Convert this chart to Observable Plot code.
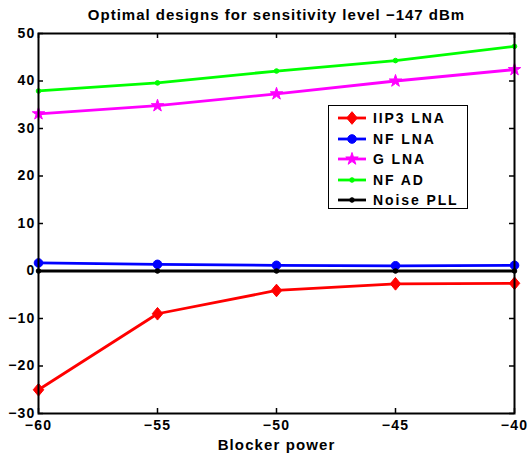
<!DOCTYPE html>
<html><head><meta charset="utf-8">
<script src="https://cdn.jsdelivr.net/npm/d3@7"></script>
<script src="https://cdn.jsdelivr.net/npm/@observablehq/plot@0.6"></script>
<style>
body{margin:0;background:#fff;font-family:"Liberation Sans",Arial,sans-serif}
#wrap{position:relative;width:530px;height:458px}
#legend{position:absolute;left:328px;top:105px;width:138px;height:100px;border:1.5px solid #000;background:#fff;padding-top:2px}
.row{height:20.5px;display:flex;align-items:center;font-weight:bold;font-size:14px;letter-spacing:1.9px;color:#000;white-space:nowrap}
.row svg{margin-left:8px;margin-right:6px}
</style></head><body><div id="wrap"><div id="legend"></div></div>
<script>
const blockerPower = [-60, -55, -50, -45, -40];
const iip3LNA = [-25, -9, -4.1, -2.7, -2.6];
const nfLNA = [1.7, 1.4, 1.2, 1.1, 1.2];
const gLNA = [33.1, 34.8, 37.3, 40.0, 42.4];
const nfAD = [37.9, 39.6, 42.1, 44.3, 47.3];
const noisePLL = [0, 0, 0, 0, 0];
const seriesNames = ["IIP3 LNA", "NF LNA", "G LNA", "NF AD", "Noise PLL"];
const seriesValues = [iip3LNA, nfLNA, gLNA, nfAD, noisePLL];
const seriesColors = ["#ff0000", "#0000ff", "#ff00ff", "#00ff00", "#000000"];
const seriesSymbols = ["diamond", "circle", "star", "circle", "circle"];
const seriesR = [4.6, 4.3, 3.9, 2.3, 2.3];
const xTicks = [-60, -55, -50, -45, -40];
const yTicks = [-30, -20, -10, 0, 10, 20, 30, 40, 50];
const titleText = "Optimal designs for sensitivity level \u2212147 dBm";
const xLabel = "Blocker power";

// MATLAB-like diamond (half-width : half-height = 5 : 6)
const matlabDiamond = {
  draw(ctx, size) {
    const h = Math.sqrt(size / (2 * 5 / 6)), w = h * 5 / 6;
    ctx.moveTo(0, -h); ctx.lineTo(w, 0); ctx.lineTo(0, h); ctx.lineTo(-w, 0); ctx.closePath();
  }
};
const symbolMap = {diamond: matlabDiamond, circle: d3.symbolCircle, star: d3.symbolStar};

const rows = [];
seriesNames.forEach((name, s) => blockerPower.forEach((x, i) => rows.push({series: name, s, x, y: seriesValues[s][i]})));

const W = 530, H = 458, mL = 38, mR = 16, mT = 33, mB = 45;
const fw = W - mL - mR, fh = H - mT - mB, tl = 5;
const font = {fontWeight: "bold", fontSize: 14, fill: "black"};

const marks = [];
seriesNames.forEach((name, s) => {
  const d = rows.filter(r => r.s === s);
  marks.push(Plot.line(d, {x: "x", y: "y", stroke: seriesColors[s], strokeWidth: 2.8}));
  marks.push(Plot.dot(d, {x: "x", y: "y", fill: seriesColors[s], stroke: seriesColors[s], strokeWidth: 1, symbol: symbolMap[seriesSymbols[s]], r: seriesR[s]}));
});

const chart = Plot.plot({
  width: W, height: H,
  marginLeft: mL, marginRight: mR, marginTop: mT, marginBottom: mB,
  style: {fontFamily: "Liberation Sans, Arial, sans-serif", background: "white"},
  x: {domain: [-60, -40]},
  y: {domain: [-30, 50]},
  marks: [
    ...marks,
    Plot.tickX(xTicks, {x: d => d, insetTop: fh - tl, stroke: "black", strokeWidth: 1.5}),
    Plot.tickX(xTicks, {x: d => d, insetBottom: fh - tl, stroke: "black", strokeWidth: 1.5}),
    Plot.tickY(yTicks, {y: d => d, insetRight: fw - tl, stroke: "black", strokeWidth: 1.5}),
    Plot.tickY(yTicks, {y: d => d, insetLeft: fw - tl, stroke: "black", strokeWidth: 1.5}),
    Plot.frame({stroke: "black", strokeWidth: 2}),
    Plot.axisX(xTicks, {ticks: xTicks, tickSize: 0, tickPadding: 7, label: null, ...font, className: "xt"}),
    Plot.axisY(yTicks, {ticks: yTicks, tickSize: 0, tickPadding: 3, label: null, ...font, className: "yt"}),
    Plot.text([titleText], {text: d => d, frameAnchor: "top", dy: -24, ...font, fontSize: 15, className: "ttl"}),
    Plot.text([xLabel], {text: d => d, frameAnchor: "bottom", dy: 36, ...font, fontSize: 15, className: "xl"})
  ]
});
document.getElementById("wrap").prepend(chart);
// widen glyph spacing like the reference rendering
chart.querySelectorAll(".xt text, .yt text").forEach(t => t.setAttribute("letter-spacing", "1.2"));
chart.querySelectorAll(".ttl text").forEach(t => t.setAttribute("letter-spacing", "1"));
chart.querySelectorAll(".xl text").forEach(t => t.setAttribute("letter-spacing", "1.1"));

const legend = document.getElementById("legend");
seriesNames.forEach((name, s) => {
  const row = document.createElement("div");
  row.className = "row";
  const sw = d3.create("svg").attr("width", 30).attr("height", 16);
  sw.append("line").attr("x1", 1).attr("x2", 29).attr("y1", 8).attr("y2", 8)
    .attr("stroke", seriesColors[s]).attr("stroke-width", 2.8);
  sw.append("path").attr("transform", "translate(15,8)")
    .attr("d", d3.symbol(symbolMap[seriesSymbols[s]], Math.PI * seriesR[s] * seriesR[s])())
    .attr("fill", seriesColors[s]).attr("stroke", seriesColors[s]);
  row.appendChild(sw.node());
  const t = document.createElement("span");
  t.textContent = name;
  row.appendChild(t);
  legend.appendChild(row);
});
</script>
</body></html>
